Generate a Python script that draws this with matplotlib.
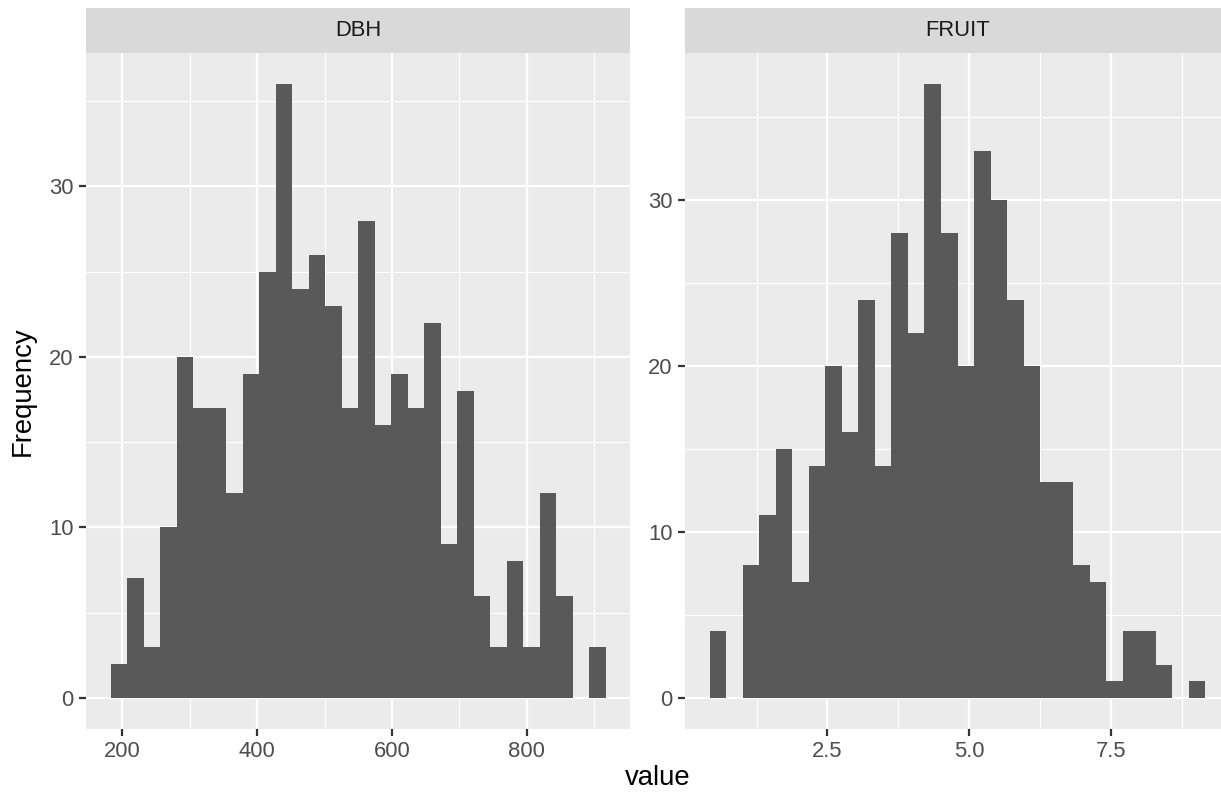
import numpy as np
import matplotlib
matplotlib.use("Agg")
import matplotlib.pyplot as plt
from matplotlib.ticker import FixedLocator

# --- data (30 bins per panel) ---
dbh_counts = [2, 7, 3, 10, 20, 17, 17, 12, 19, 25, 36, 24, 26, 23, 17,
              28, 16, 19, 17, 22, 9, 18, 6, 3, 8, 3, 12, 6, 0, 3]
dbh_start = 182.7
dbh_binwidth = 24.47

fruit_counts = [4, 0, 8, 11, 15, 7, 14, 20, 16, 24, 14, 28, 22, 37, 28,
                20, 33, 30, 24, 20, 13, 13, 8, 7, 1, 4, 4, 2, 0, 1]
fruit_start = 0.423
fruit_binwidth = 0.2915

panel_names = ["DBH", "FRUIT"]
x_major = [[200, 400, 600, 800], [2.5, 5.0, 7.5]]
x_minor = [[300, 500, 700, 900], [1.25, 3.75, 6.25, 8.75]]
x_labels = [["200", "400", "600", "800"], ["2.5", "5.0", "7.5"]]
y_major = [0, 10, 20, 30]
y_minor = [5, 15, 25, 35]

plt.rcParams['font.family'] = ['Liberation Sans', 'DejaVu Sans']

W, H = 1221, 805
fig = plt.figure(figsize=(W / 100, H / 100), dpi=100)
fig.patch.set_facecolor("white")

# panel boxes in pixels (left, right); the right panel runs past the edge
panels_px = [(86, 630.3), (685, 1230)]
top_px, bottom_px = 53.5, 728.5
strip_top_px = 8

series = [(dbh_counts, dbh_start, dbh_binwidth),
          (fruit_counts, fruit_start, fruit_binwidth)]

for i, (name, (counts, start, bw)) in enumerate(zip(panel_names, series)):
    l, r = panels_px[i]
    ax = fig.add_axes([l / W, 1 - bottom_px / H, (r - l) / W, (bottom_px - top_px) / H])
    ax.set_facecolor("#EBEBEB")
    edges = start + bw * np.arange(len(counts) + 1)
    # one filled outline so neighbouring bins leave no hairline seam
    ax.stairs(counts, edges, fill=True, color="#595959", linewidth=0, zorder=2)

    span = edges[-1] - edges[0]
    ax.set_xlim(edges[0] - 0.05 * span, edges[-1] + 0.05 * span)
    ymax = max(counts)
    ax.set_ylim(-0.05 * ymax, 1.05 * ymax)

    ax.xaxis.set_major_locator(FixedLocator(x_major[i]))
    ax.xaxis.set_minor_locator(FixedLocator(x_minor[i]))
    ax.set_xticklabels(x_labels[i])
    ax.yaxis.set_major_locator(FixedLocator(y_major))
    ax.yaxis.set_minor_locator(FixedLocator(y_minor))

    ax.grid(which="major", color="white", linewidth=1.6, zorder=0)
    ax.grid(which="minor", color="white", linewidth=0.8, zorder=0)
    ax.set_axisbelow(True)
    for s in ax.spines.values():
        s.set_visible(False)
    ax.tick_params(which="major", length=4.97, width=1.6, color="#333333",
                   labelcolor="#4D4D4D", labelsize=15.8, pad=3.9)
    ax.tick_params(which="minor", length=0)

    # facet strip
    sax = fig.add_axes([l / W, 1 - top_px / H, (r - l) / W, (top_px - strip_top_px) / H])
    sax.set_facecolor("#D9D9D9")
    sax.set_xticks([])
    sax.set_yticks([])
    for s in sax.spines.values():
        s.set_visible(False)
    sax.text(0.5, 0.5, name, ha="center", va="center", fontsize=15.8,
             color="#1A1A1A", transform=sax.transAxes)

fig.text(658 / W, 1 - 785 / H, "value", ha="center", va="baseline",
         fontsize=19.8, color="black")
fig.text(23 / W, 1 - 391 / H, "Frequency", ha="center", va="center",
         rotation=90, fontsize=19.8, color="black")

fig.savefig("out.png", dpi=100)
